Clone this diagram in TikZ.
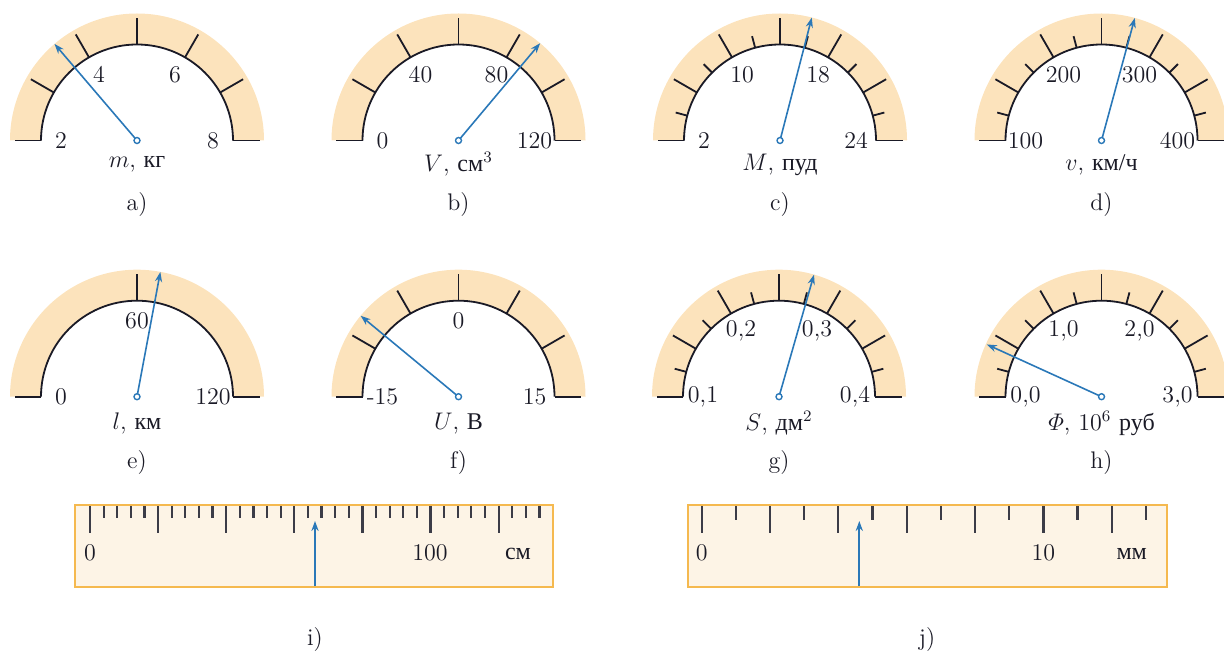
\documentclass[tikz,border=0pt]{standalone}
\usepackage{fontspec}
\usepackage{amsmath}
\newfontfamily\cyr{Liberation Serif}
\usetikzlibrary{arrows.meta}
\definecolor{bandcol}{HTML}{FCE3BC}
\definecolor{needlecol}{HTML}{2A78B8}
\definecolor{rulerfill}{HTML}{FDF4E6}
\definecolor{rulerdraw}{HTML}{F5B94F}
\definecolor{inkcol}{HTML}{1A1A26}
\tikzset{
  scaleline/.style={line width=0.9pt, draw=inkcol},
  needle/.style={line width=0.8pt, draw=needlecol, -{Stealth[length=5pt,width=3.6pt]}},
  pivot/.style={line width=0.7pt, draw=needlecol, fill=white},
  lab/.style={font=\fontsize{12}{14}\selectfont, text=inkcol, inner sep=0pt},
  rulerbox/.style={line width=1pt, draw=rulerdraw, fill=rulerfill},
  rtick/.style={line width=1.1pt, draw=inkcol!85},
}
\newcommand{\gaugeframe}[1]{%
  \fill[bandcol] (127,0) arc[start angle=0,end angle=180,radius=127] -- (-96,0) arc[start angle=180,end angle=0,radius=96] -- cycle;
  \draw[scaleline] (96,0) arc[start angle=0,end angle=180,radius=96];
  \foreach \a in {#1} \draw[scaleline] (\a:96) -- (\a:122.5);
}
\newcommand{\shortticks}{%
  \foreach \a in {15,45,...,165} \draw[scaleline] (\a:96) -- (\a:108);
}
\begin{document}
\begin{tikzpicture}[x=0.5pt,y=0.5pt]
\useasboundingbox (0,0) rectangle (1224,-657);

% ---------- a)
\begin{scope}[shift={(137,-140.5)}]
  \gaugeframe{0,30,...,180}
  \node[lab] (a1) at (180:76) {2};
  \node[lab] (a2) at (120:76) {4};
  \node[lab] (a3) at (60:76) {6};
  \node[lab] (a4) at (0:76) {8};
  \coordinate (pa) at (0,0);
  \coordinate (na) at (130.5:127);
  \draw[needle] (pa) -- (na);
  \draw[pivot] (pa) circle[radius=3];
  \node[lab] (ua) at (0,-24) {$m$, {\cyr кг}};
  \node[lab] (sa) at (0,-64) {a)};
\end{scope}

% ---------- b)
\begin{scope}[shift={(458.5,-140.5)}]
  \gaugeframe{0,30,...,180}
  \node[lab] (b1) at (180:76) {0};
  \node[lab] (b2) at (120:76) {40};
  \node[lab] (b3) at (60:76) {80};
  \node[lab] (b4) at (0:76) {120};
  \coordinate (pb) at (0,0);
  \coordinate (nb) at (50:127);
  \draw[needle] (pb) -- (nb);
  \draw[pivot] (pb) circle[radius=3];
  \node[lab] (ub) at (0,-24) {$V$, {\cyr см}$^3$};
  \node[lab] (sb) at (0,-64) {b)};
\end{scope}

% ---------- c)
\begin{scope}[shift={(780,-140.5)}]
  \gaugeframe{0,30,...,180}
  \shortticks
  \node[lab] (c1) at (180:76) {2};
  \node[lab] (c2) at (120:76) {10};
  \node[lab] (c3) at (60:76) {18};
  \node[lab] (c4) at (0:76) {24};
  \coordinate (pc) at (0,0);
  \coordinate (nc) at (75.5:127);
  \draw[needle] (pc) -- (nc);
  \draw[pivot] (pc) circle[radius=3];
  \node[lab] (uc) at (0,-24) {$M$, {\cyr пуд}};
  \node[lab] (sc) at (0,-64) {c)};
\end{scope}

% ---------- d)
\begin{scope}[shift={(1101.5,-140.5)}]
  \gaugeframe{0,30,...,180}
  \shortticks
  \node[lab] (d1) at (180:76) {100};
  \node[lab] (d2) at (120:76) {200};
  \node[lab] (d3) at (60:76) {300};
  \node[lab] (d4) at (0:76) {400};
  \coordinate (pd) at (0,0);
  \coordinate (nd) at (74.8:127);
  \draw[needle] (pd) -- (nd);
  \draw[pivot] (pd) circle[radius=3];
  \node[lab] (ud) at (0,-24) {$v$, {\cyr км/ч}};
  \node[lab] (sd) at (0,-64) {d)};
\end{scope}

% ---------- e)
\begin{scope}[shift={(137,-396.7)}]
  \gaugeframe{0,90,180}
  \node[lab] (e1) at (180:76) {0};
  \node[lab] (e2) at (90:76) {60};
  \node[lab] (e4) at (0:76) {120};
  \coordinate (pe) at (0,0);
  \coordinate (ne) at (79.4:127);
  \draw[needle] (pe) -- (ne);
  \draw[pivot] (pe) circle[radius=3];
  \node[lab] (ue) at (0,-26.5) {$l$, {\cyr км}};
  \node[lab] (se) at (0,-66) {e)};
\end{scope}

% ---------- f)
\begin{scope}[shift={(458.5,-396.7)}]
  \gaugeframe{0,30,...,180}
  \node[lab] (f1) at (180:76) {-15};
  \node[lab] (f2) at (90:76) {0};
  \node[lab] (f4) at (0:76) {15};
  \coordinate (pf) at (0,0);
  \coordinate (nf) at (140.4:127);
  \draw[needle] (pf) -- (nf);
  \draw[pivot] (pf) circle[radius=3];
  \node[lab] (uf) at (0,-26.5) {$U$, {\cyr В}};
  \node[lab] (sf) at (0,-66) {f)};
\end{scope}

% ---------- g)
\begin{scope}[shift={(779,-396.7)}]
  \gaugeframe{0,30,...,180}
  \shortticks
  \node[lab] (g1) at (180:76) {0,1};
  \node[lab] (g2) at (120:76) {0,2};
  \node[lab] (g3) at (60:76) {0,3};
  \node[lab] (g4) at (0:76) {0,4};
  \coordinate (pg) at (0,0);
  \coordinate (ng) at (74:127);
  \draw[needle] (pg) -- (ng);
  \draw[pivot] (pg) circle[radius=3];
  \node[lab] (ug) at (0,-26.5) {$S$, {\cyr дм}$^2$};
  \node[lab] (sg) at (0,-66) {g)};
\end{scope}

% ---------- h)
\begin{scope}[shift={(1101.5,-396.7)}]
  \gaugeframe{0,30,...,180}
  \shortticks
  \node[lab] (h1) at (180:76) {0,0};
  \node[lab] (h2) at (120:76) {1,0};
  \node[lab] (h3) at (60:76) {2,0};
  \node[lab] (h4) at (0:76) {3,0};
  \coordinate (ph) at (0,0);
  \coordinate (nh) at (155.5:126);
  \draw[needle] (ph) -- (nh);
  \draw[pivot] (ph) circle[radius=3];
  \node[lab] (uh) at (0,-26.5) {$\varPhi$, 10$^6$ {\cyr руб}};
  \node[lab] (sh) at (0,-66) {h)};
\end{scope}

% ---------- i) ruler
\draw[rulerbox] (75,-505) rectangle (553.3,-586.7);
\foreach \k in {0,...,33} {
  \pgfmathsetmacro\xx{90+13.62*\k}
  \pgfmathsetmacro\yy{mod(\k,5)==0 ? 533 : 518}
  \draw[rtick] (\xx,-506) -- (\xx,-\yy);
}
\node[lab] (i0) at (90,-553) {0};
\node[lab] (i100) at (430,-553) {100};
\node[lab] (iu) at (518,-554) {\cyr см};
\coordinate (ia0) at (315,-586.2);
\coordinate (ia1) at (315,-521);
\draw[needle, line width=1pt] (ia0) -- (ia1);
\node[lab] (si) at (315,-640) {i)};

% ---------- j) ruler
\draw[rulerbox] (688.3,-505) rectangle (1166.7,-586.7);
\foreach \k in {0,...,13} {
  \pgfmathsetmacro\xx{701.7+34.17*\k}
  \pgfmathsetmacro\yy{mod(\k,2)==0 ? 533 : 520}
  \draw[rtick] (\xx,-506) -- (\xx,-\yy);
}
\node[lab] (j0) at (701.7,-553) {0};
\node[lab] (j10) at (1043.3,-553) {10};
\node[lab] (ju) at (1131.7,-554) {\cyr мм};
\coordinate (ja0) at (859.3,-586.2);
\coordinate (ja1) at (859.3,-521);
\draw[needle, line width=1pt] (ja0) -- (ja1);
\node[lab] (sj) at (927,-640) {j)};
\end{tikzpicture}
\end{document}
